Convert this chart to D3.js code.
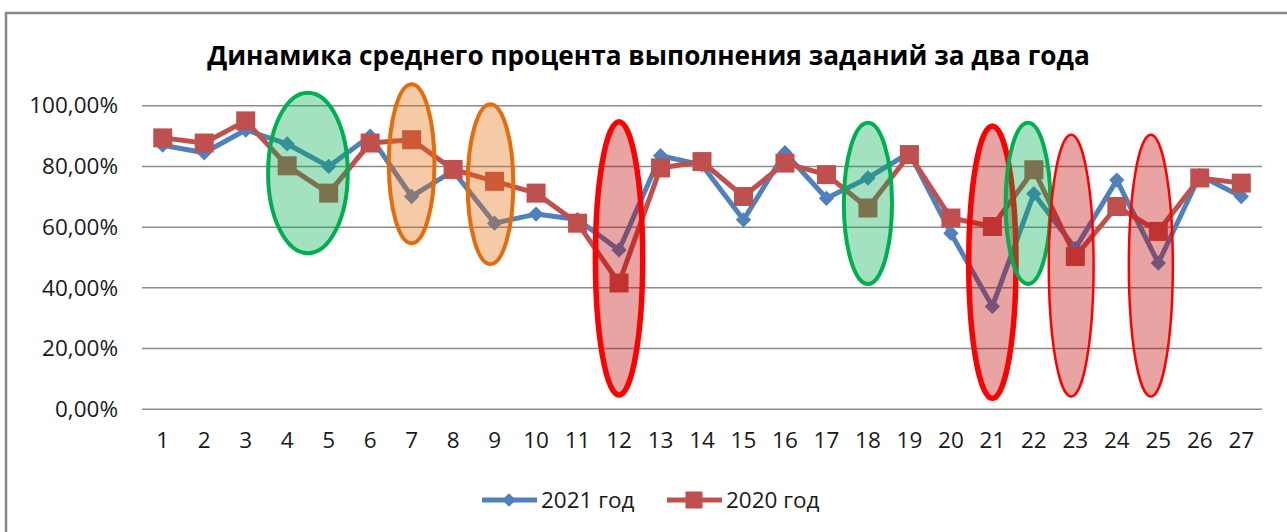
<!DOCTYPE html>
<html>
<head>
<meta charset="utf-8">
<script src="https://cdn.jsdelivr.net/npm/d3@7"></script>
<style>
  html, body { margin: 0; padding: 0; background: #fff; }
  svg { display: block; font-family: "Open Sans", "Noto Sans", sans-serif; }
</style>
</head>
<body>
<svg id="chart" width="1287" height="532"></svg>
<script>
// ---- data ----
const titleText = "Динамика среднего процента выполнения заданий за два года";
const categories = ["1","2","3","4","5","6","7","8","9","10","11","12","13","14","15","16","17","18","19","20","21","22","23","24","25","26","27"];
const series2021 = [87.0, 84.5, 92.0, 87.4, 80.0, 90.0, 70.1, 78.5, 61.3, 64.3, 62.5, 52.5, 83.5, 80.5, 62.4, 84.5, 69.5, 76.2, 84.5, 58.0, 33.9, 71.0, 53.0, 75.5, 48.2, 77.0, 70.1];
const series2020 = [89.4, 87.7, 95.0, 80.2, 71.2, 87.7, 88.8, 79.0, 75.1, 71.2, 61.3, 41.6, 79.5, 81.6, 70.1, 81.1, 77.3, 66.3, 83.9, 63.0, 60.2, 78.9, 50.3, 66.8, 58.6, 76.2, 74.5];
const seriesNames = ["2021 год", "2020 год"];
const yTicks = [0, 20, 40, 60, 80, 100];
// highlight ovals: category position, value span, half-width in category units
const highlights = [
  { kind: "green",    at: 4.5,  top: 104.3, bottom: 51.4, half: 0.96 },
  { kind: "orange",   at: 7.0,  top: 107.1, bottom: 54.7, half: 0.55 },
  { kind: "orange",   at: 8.9,  top: 100.5, bottom: 47.8, half: 0.55 },
  { kind: "redThick", at: 12.0, top: 94.7,  bottom: 4.7,  half: 0.57 },
  { kind: "green",    at: 18.0, top: 94.4,  bottom: 41.3, half: 0.58 },
  { kind: "redThick", at: 21.0, top: 93.3,  bottom: 3.6,  half: 0.57 },
  { kind: "green",    at: 21.86,top: 94.4,  bottom: 41.3, half: 0.54 },
  { kind: "redThin",  at: 22.9, top: 90.4,  bottom: 4.2,  half: 0.54 },
  { kind: "redThin",  at: 24.82,top: 90.4,  bottom: 4.2,  half: 0.53 }
];

// ---- styles ----
const colors = { s2021: "#4f81bd", s2020: "#c0504d" };
const ovalStyles = {
  green:    { stroke: "#00b050", fill: "#00b050", width: 4 },
  orange:   { stroke: "#e46c0a", fill: "#e46c0a", width: 4 },
  redThick: { stroke: "#ff0000", fill: "#c00000", width: 5.5 },
  redThin:  { stroke: "#ff0000", fill: "#c00000", width: 2.5 }
};

const svg = d3.select("#chart");
const W = 1287, H = 532;
const plot = { left: 142, right: 1262, top: 105.7, bottom: 409.3 };

// chart frame (only top & left visible in the crop)
svg.append("rect")
  .attr("x", 6).attr("y", 13)
  .attr("width", W + 20).attr("height", H + 20)
  .attr("fill", "#fff").attr("stroke", "#888").attr("stroke-width", 2.5);

const x = d3.scaleBand().domain(categories).range([plot.left, plot.right]);
const bw = x.bandwidth();
const cx = c => x(c) + bw / 2;
const xPos = d3.scaleLinear().domain([0.5, categories.length + 0.5]).range([plot.left, plot.right]);
const y = d3.scaleLinear().domain([0, 100]).range([plot.bottom, plot.top]);

const ru = d3.formatLocale({ decimal: ",", thousands: " ", grouping: [3], currency: ["", ""] });
const fmtPct = v => ru.format(".2f")(v) + "%";

// gridlines
svg.append("g").selectAll("line").data(yTicks).join("line")
  .attr("x1", plot.left).attr("x2", plot.right)
  .attr("y1", d => y(d)).attr("y2", d => y(d))
  .attr("stroke", "#8c8c8c").attr("stroke-width", 1.5);

// y axis labels
const yAxis = d3.axisLeft(y).tickValues(yTicks).tickFormat(fmtPct).tickSize(0).tickPadding(0);
const gy = svg.append("g").attr("transform", "translate(118,0)").call(yAxis);
gy.select(".domain").remove();
gy.selectAll("text").attr("font-size", 22.5).attr("fill", "#1a1a1a")
  .attr("font-family", '"Open Sans", sans-serif');

// x axis labels
const xAxis = d3.axisBottom(x).tickSize(0).tickPadding(0);
const gx = svg.append("g").attr("transform", "translate(0,432)").call(xAxis);
gx.select(".domain").remove();
gx.selectAll("text").attr("font-size", 22.5).attr("fill", "#1a1a1a")
  .attr("font-family", '"Open Sans", sans-serif');

// lines
const line = d3.line().x((d, i) => cx(categories[i])).y(d => y(d));
svg.append("path").datum(series2021).attr("d", line)
  .attr("fill", "none").attr("stroke", colors.s2021).attr("stroke-width", 5).attr("stroke-linejoin", "round");
svg.append("path").datum(series2020).attr("d", line)
  .attr("fill", "none").attr("stroke", colors.s2020).attr("stroke-width", 5).attr("stroke-linejoin", "round");

// markers
const diamond = d3.symbol().type(d3.symbolDiamond2).size(150);
svg.append("g").selectAll("path").data(series2021).join("path")
  .attr("d", diamond)
  .attr("transform", (d, i) => `translate(${cx(categories[i])},${y(d)})`)
  .attr("fill", colors.s2021);
const sq = 19;
svg.append("g").selectAll("rect").data(series2020).join("rect")
  .attr("x", (d, i) => cx(categories[i]) - sq / 2)
  .attr("y", d => y(d) - sq / 2)
  .attr("width", sq).attr("height", sq)
  .attr("fill", colors.s2020);

// highlight ovals
svg.append("g").selectAll("ellipse").data(highlights).join("ellipse")
  .attr("cx", d => xPos(d.at))
  .attr("cy", d => (y(d.top) + y(d.bottom)) / 2)
  .attr("rx", d => d.half * bw)
  .attr("ry", d => (y(d.bottom) - y(d.top)) / 2)
  .attr("fill", d => ovalStyles[d.kind].fill)
  .attr("fill-opacity", 0.36)
  .attr("stroke", d => ovalStyles[d.kind].stroke)
  .attr("stroke-width", d => ovalStyles[d.kind].width);

// title
const title = svg.append("text")
  .attr("x", 648.5).attr("y", 65)
  .attr("text-anchor", "middle")
  .attr("font-weight", "bold")
  .attr("font-size", 24)
  .attr("fill", "#000")
  .text(titleText);
const tw = title.node().getComputedTextLength();
title.attr("font-size", 24 * 883 / tw);

// legend
const legend = svg.append("g").attr("transform", "translate(0,500)");
const items = [
  { name: seriesNames[0], color: colors.s2021, x0: 482, marker: "diamond" },
  { name: seriesNames[1], color: colors.s2020, x0: 667, marker: "square" }
];
items.forEach(it => {
  legend.append("line").attr("x1", it.x0).attr("x2", it.x0 + 55)
    .attr("y1", 0).attr("y2", 0).attr("stroke", it.color).attr("stroke-width", 5);
  if (it.marker === "diamond") {
    legend.append("path").attr("d", d3.symbol().type(d3.symbolDiamond2).size(120))
      .attr("transform", `translate(${it.x0 + 27},0)`).attr("fill", it.color);
  } else {
    legend.append("rect").attr("x", it.x0 + 27 - 8.5).attr("y", -8.5)
      .attr("width", 17).attr("height", 17).attr("fill", it.color);
  }
  legend.append("text").attr("x", it.x0 + 59).attr("y", 0).attr("dy", "0.35em")
    .attr("font-size", 22.5).attr("fill", "#1a1a1a").text(it.name);
});
</script>
</body>
</html>
